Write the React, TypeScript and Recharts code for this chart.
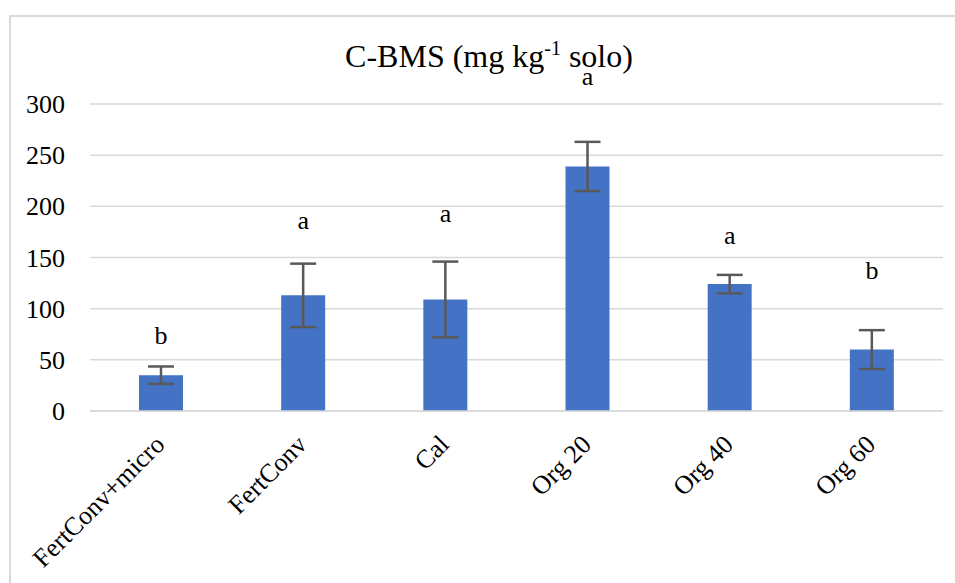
import { BarChart, Bar, XAxis, YAxis, CartesianGrid, ErrorBar, ReferenceDot } from 'recharts'

const CATEGORIES = ['FertConv+micro', 'FertConv', 'Cal', 'Org 20', 'Org 40', 'Org 60']
const VALUES = [35, 113, 109, 239, 124, 60]
const ERRORS = [8.5, 31, 37, 24, 9, 19]
// letras do teste de médias e a altura (em mg/kg) onde aparecem
const LETTERS = ['b', 'a', 'a', 'a', 'a', 'b']
const LETTER_Y = [74, 184, 191, 324, 169, 138]
const Y_TICKS = [0, 50, 100, 150, 200, 250, 300]

const FONT = '"Liberation Serif", "Times New Roman", serif'
const GRID = '#d9d9d9'

const data = CATEGORIES.map((name, i) => ({ name, value: VALUES[i], err: ERRORS[i] }))

const XTick = ({ x, y, payload }: any) => {
  const ax = x + 5
  const ay = y + 33
  return (
    <text
      x={ax}
      y={ay}
      transform={`rotate(-45 ${ax} ${ay})`}
      textAnchor="end"
      style={{ fontFamily: FONT, fontSize: 26 }}
      fill="#000"
    >
      {payload.value}
    </text>
  )
}

const YTick = ({ x, y, payload }: any) => (
  <text x={x - 23} y={y + 9} textAnchor="end" style={{ fontFamily: FONT, fontSize: 26 }} fill="#000">
    {payload.value}
  </text>
)

// letra centrada no ponto (a tem altura-x, b tem haste)
const Letter = (letter: string) => (props: any) => (
  <text
    x={props.cx}
    y={props.cy + (letter === 'b' ? 9 : 6)}
    textAnchor="middle"
    style={{ fontFamily: FONT, fontSize: 26 }}
    fill="#000"
  >
    {letter}
  </text>
)

export default function App() {
  return (
    <div style={{ position: 'absolute', left: 0, top: 0, width: 955, height: 583, background: '#fff', overflow: 'hidden' }}>
      <div style={{ position: 'absolute', left: 0, top: 0 }}>
        <BarChart width={955} height={583} data={data} margin={{ top: 104, right: 12, left: 0, bottom: 22 }}>
          <CartesianGrid vertical={false} stroke={GRID} strokeWidth={1.5} />
          <XAxis
            dataKey="name"
            height={150}
            interval={0}
            tickLine={false}
            tickSize={0}
            axisLine={{ stroke: GRID, strokeWidth: 1.5 }}
            tick={<XTick />}
          />
          <YAxis
            width={90}
            domain={[0, 300]}
            ticks={Y_TICKS}
            axisLine={false}
            tickLine={false}
            tickSize={0}
            tick={<YTick />}
          />
          <Bar dataKey="value" fill="#4472c4" barSize={44} isAnimationActive={false}>
            <ErrorBar dataKey="err" width={13} stroke="#595959" strokeWidth={2.5} />
          </Bar>
          {CATEGORIES.map((c, i) => (
            <ReferenceDot key={c} x={c} y={LETTER_Y[i]} r={0} ifOverflow="visible" shape={Letter(LETTERS[i])} />
          ))}
        </BarChart>
      </div>
      <svg width={955} height={583} style={{ position: 'absolute', left: 0, top: 0, pointerEvents: 'none' }}>
        <path d="M10 583 V16 H955" fill="none" stroke={GRID} strokeWidth={2} />
        <text x={489} y={67} textAnchor="middle" style={{ fontFamily: FONT, fontSize: 32 }} fill="#000">
          C-BMS (mg kg
          <tspan dy={-12} style={{ fontSize: 20 }}>-1</tspan>
          <tspan dy={12}> solo)</tspan>
        </text>
      </svg>
    </div>
  )
}
